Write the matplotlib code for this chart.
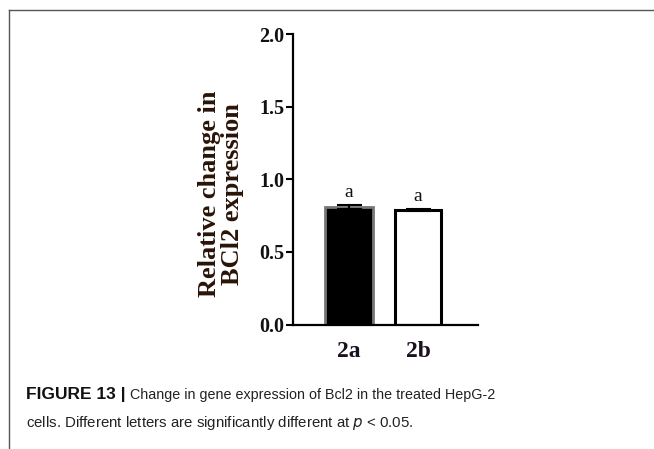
import matplotlib.pyplot as plt
from matplotlib.lines import Line2D

# data
groups = ['2a', '2b']
values = [0.81, 0.79]
errors = [0.012, 0.006]
sig_letters = ['a', 'a']

fig = plt.figure(figsize=(6.54, 4.49), dpi=100)

# outer frame (top and left rules)
fig.add_artist(Line2D([9 / 654, 1], [1 - 10 / 449, 1 - 10 / 449], color='#555555', lw=1.0))
fig.add_artist(Line2D([9 / 654, 9 / 654], [0, 1 - 10 / 449], color='#555555', lw=1.0))

ax = fig.add_axes([293 / 654, 1 - 324.5 / 449, (478 - 293) / 654, (324.5 - 34) / 449])

x = range(len(groups))
ax.bar(x[0], values[0], width=0.7, color='black', edgecolor='#777777', linewidth=2.0, zorder=2)
ax.bar(x[1], values[1], width=0.66, color='white', edgecolor='black', linewidth=2.2, zorder=2)
ax.errorbar(x, values, yerr=errors, fmt='none', ecolor='black', elinewidth=1.5,
            capsize=9, capthick=1.5, zorder=3)

for xi, v, e, s in zip(x, values, errors, sig_letters):
    ax.text(xi, v + e + 0.03, s, ha='center', va='bottom', family='Liberation Serif',
            fontsize=14, color='#111111')

ax.set_ylim(0, 2.0)
ax.set_xlim(-0.81, 1.87)
ax.set_yticks([0.0, 0.5, 1.0, 1.5, 2.0])
ax.set_yticklabels(['0.0', '0.5', '1.0', '1.5', '2.0'], family='Liberation Serif',
                   fontweight='bold', fontsize=14.5, color='#111111')
ax.set_xticks(list(x))
ax.set_xticklabels(groups, family='Liberation Serif', fontweight='bold', fontsize=17,
                   color='#1a1020')
ax.tick_params(axis='y', direction='out', length=5, width=1.5, pad=1)
ax.tick_params(axis='x', length=0, pad=12)

for side in ['top', 'right']:
    ax.spines[side].set_visible(False)
for side in ['left', 'bottom']:
    ax.spines[side].set_linewidth(1.6)

ax.set_ylabel('Relative change in\nBCl2 expression', family='Liberation Serif',
              fontweight='bold', fontsize=19, color='#2a1408', linespacing=1.0)
ax.yaxis.set_label_coords(-0.265, 0.45)

# caption
fig.canvas.draw()
renderer = fig.canvas.get_renderer()
t1 = fig.text(26 / 654, 1 - 395 / 449, 'FIGURE 13 |', family='Liberation Sans',
              fontweight='bold', fontsize=12.5, va='center', color='#111111')
bb = t1.get_window_extent(renderer)
x2 = bb.x1 / fig.bbox.width + 4 / 654
fig.text(x2, 1 - 395 / 449, 'Change in gene expression of Bcl2 in the treated HepG-2',
         family='Liberation Sans', fontsize=10.3, va='center', color='#222222')
fig.text(26 / 654, 1 - 423 / 449,
         'cells. Different letters are significantly different at $p$ < 0.05.',
         family='Liberation Sans', fontsize=10.8, va='center', color='#222222')

fig.savefig('out.png', dpi=100)
